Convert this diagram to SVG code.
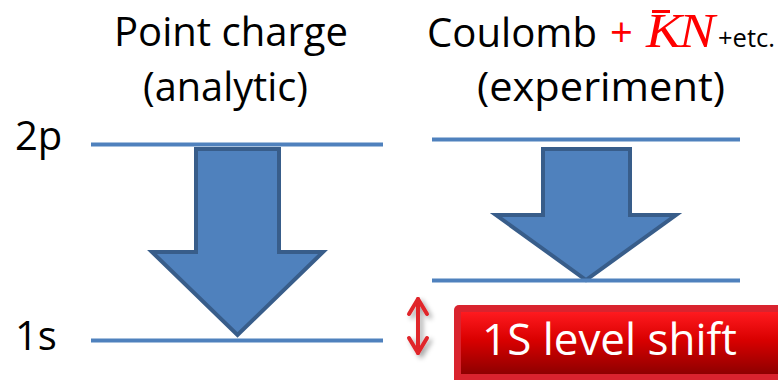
<svg xmlns="http://www.w3.org/2000/svg" width="778" height="380" viewBox="0 0 778 380">
  <style>
    .t { font-family: "Open Sans", "Liberation Sans", sans-serif; font-size: 40px; fill: #000; }
    .lvl { stroke: #4F81BD; stroke-width: 4; fill: none; }
    .arr { fill: #4F81BD; stroke: #385D8A; stroke-width: 4; stroke-linejoin: miter; }
    .red { fill: #FF0000; }
    .math { font-family: "Liberation Serif", "DejaVu Serif", serif; font-style: italic; font-size: 48px; fill: #FF0000; }
  </style>
  <defs>
    <linearGradient id="rg" x1="0" y1="0" x2="0" y2="1">
      <stop offset="0" stop-color="#FF1A1F"/>
      <stop offset="0.45" stop-color="#D90000"/>
      <stop offset="1" stop-color="#8E0000"/>
    </linearGradient>
    <filter id="sh" x="-50%" y="-20%" width="250%" height="150%">
      <feDropShadow dx="3" dy="3" stdDeviation="2.5" flood-color="#000" flood-opacity="0.35"/>
    </filter>
  </defs>

  <g id="title-left">
    <text class="t" x="114" y="46" textLength="234" lengthAdjust="spacingAndGlyphs">Point charge</text>
    <text class="t" x="143" y="101" textLength="165" lengthAdjust="spacingAndGlyphs">(analytic)</text>
  </g>

  <g id="title-right">
    <text class="t" x="427" y="47" textLength="170" lengthAdjust="spacingAndGlyphs">Coulomb</text>
    <text class="t red" x="610" y="47">+</text>
    <text class="math" x="646" y="47" textLength="36" lengthAdjust="spacingAndGlyphs">K</text>
    <line x1="652" y1="11.5" x2="670" y2="11.5" stroke="#FF0000" stroke-width="3"/>
    <text class="math" x="679" y="47" textLength="36" lengthAdjust="spacingAndGlyphs">N</text>
    <text class="t" x="718" y="47" style="font-size:25px" textLength="57" lengthAdjust="spacingAndGlyphs">+etc.</text>
    <text class="t" x="477" y="101" textLength="248" lengthAdjust="spacingAndGlyphs">(experiment)</text>
  </g>

  <g id="label-2p"><text class="t" x="15" y="150">2p</text></g>
  <g id="label-1s"><text class="t" x="15" y="350">1s</text></g>

  <g id="left-transition">
    <path class="arr" d="M196,149 H279 V252 H323 L237.5,335 L152,252 H196 Z"/>
  </g>
  <g id="right-transition">
    <path class="arr" d="M543,149 H630 V215 H676 L586,280 L496,215 H543 Z"/>
  </g>

  <g id="levels">
    <line id="left-2p" class="lvl" x1="91" y1="144.5" x2="383" y2="144.5"/>
    <line id="left-1s" class="lvl" x1="91" y1="340.5" x2="383" y2="340.5"/>
    <line id="right-2p" class="lvl" x1="432" y1="139.5" x2="740" y2="139.5"/>
    <line id="right-1s" class="lvl" x1="432" y1="280.5" x2="740" y2="280.5"/>
  </g>

  <g id="shift-arrow" filter="url(#sh)" stroke="#E0252B" stroke-width="4" fill="none" stroke-linecap="round" stroke-linejoin="round">
    <line x1="418" y1="299" x2="418" y2="353"/>
    <polyline points="409,314 418,299 427,314"/>
    <polyline points="409,338 418,353 427,338"/>
  </g>

  <g id="shift-label">
    <rect x="454" y="305" width="340" height="82" rx="5" fill="#D9232E"/>
    <rect x="461" y="312" width="330" height="62" fill="url(#rg)"/>
    <text x="482" y="355" font-family="'Open Sans', 'Liberation Sans', sans-serif" font-size="44" fill="#FFFFFF" textLength="255" lengthAdjust="spacingAndGlyphs">1S level shift</text>
  </g>
</svg>
